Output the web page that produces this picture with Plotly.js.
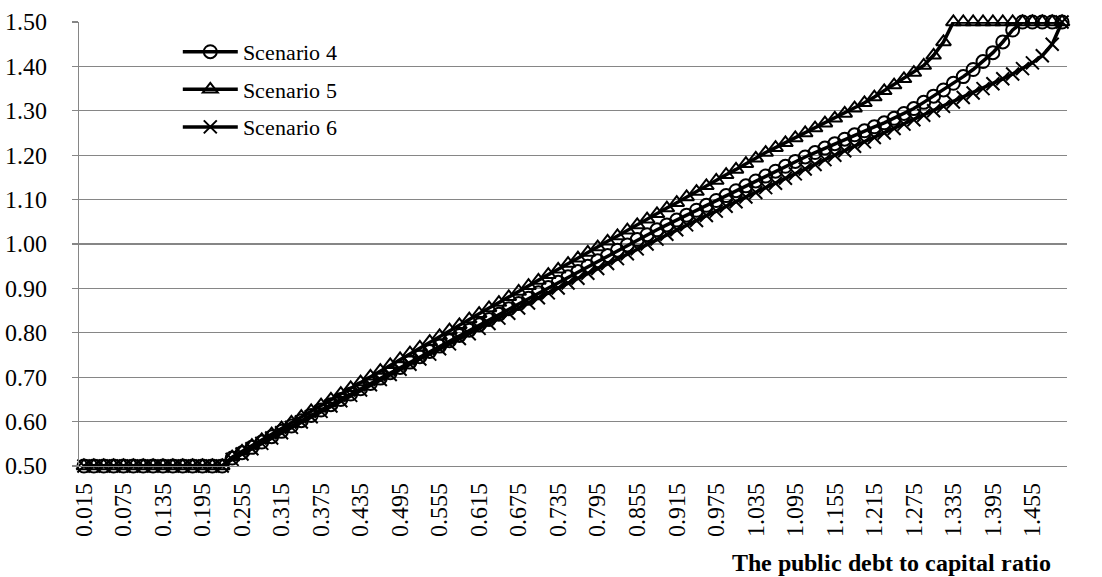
<!DOCTYPE html>
<html>
<head>
<meta charset="utf-8">
<script src="https://cdn.plot.ly/plotly-3.0.1.min.js"></script>
<style>
@font-face { font-family: "SerifLocal"; src: local("Liberation Serif"), local("LiberationSerif"), local("Liberation Serif Regular"), local("LiberationSerif-Regular"); font-weight: normal; font-style: normal; }
@font-face { font-family: "SerifLocal"; src: local("Liberation Serif Bold"), local("LiberationSerif-Bold"); font-weight: bold; font-style: normal; }
html,body{margin:0;padding:0;background:#fff;}
#fontwarm{position:absolute;left:0;top:0;font-family:"SerifLocal","Liberation Serif",serif;font-size:24px;color:#fff;opacity:0.01;pointer-events:none;}
</style>
</head>
<body>
<span id="fontwarm">&nbsp;</span>
<div id="chart" style="width:1102px;height:577px"></div>
<script>
// Categories: the public debt to capital ratio
var categories = ["0.015","0.030","0.045","0.060","0.075","0.090","0.105","0.120","0.135","0.150",
"0.165","0.180","0.195","0.210","0.225","0.240","0.255","0.270","0.285","0.300",
"0.315","0.330","0.345","0.360","0.375","0.390","0.405","0.420","0.435","0.450",
"0.465","0.480","0.495","0.510","0.525","0.540","0.555","0.570","0.585","0.600",
"0.615","0.630","0.645","0.660","0.675","0.690","0.705","0.720","0.735","0.750",
"0.765","0.780","0.795","0.810","0.825","0.840","0.855","0.870","0.885","0.900",
"0.915","0.930","0.945","0.960","0.975","0.990","1.005","1.020","1.035","1.050",
"1.065","1.080","1.095","1.110","1.125","1.140","1.155","1.170","1.185","1.200",
"1.215","1.230","1.245","1.260","1.275","1.290","1.305","1.320","1.335","1.350",
"1.365","1.380","1.395","1.410","1.425","1.440","1.455","1.470","1.485","1.500"];

var tickCategories = ["0.015","0.075","0.135","0.195","0.255","0.315","0.375","0.435","0.495","0.555",
"0.615","0.675","0.735","0.795","0.855","0.915","0.975","1.035","1.095","1.155",
"1.215","1.275","1.335","1.395","1.455"];
var tickLabels = ["0.015","0.075","0.135","0.195","0.255","0.315","0.375","0.435","0.495","0.555",
"0.615","0.675","0.735","0.795","0.855","0.915","0.975","1.035","1.095","1.155",
"1.215","1.275","1.335","1.395","1.455"];

var scenario4 = [0.50,0.50,0.50,0.50,0.50,0.50,0.50,0.50,0.50,0.50,
0.50,0.50,0.50,0.50,0.50,0.518,0.530,0.542,0.554,0.566,
0.578,0.590,0.602,0.614,0.626,0.638,0.650,0.662,0.674,0.686,
0.698,0.710,0.722,0.734,0.746,0.758,0.770,0.782,0.794,0.806,
0.818,0.830,0.842,0.854,0.866,0.878,0.890,0.902,0.914,0.926,
0.938,0.950,0.962,0.974,0.986,0.998,1.010,1.021,1.032,1.043,
1.054,1.065,1.076,1.087,1.098,1.109,1.120,1.131,1.142,1.153,
1.164,1.175,1.186,1.196,1.206,1.216,1.226,1.236,1.246,1.255,
1.264,1.273,1.283,1.294,1.305,1.319,1.333,1.347,1.362,1.377,
1.393,1.411,1.431,1.455,1.482,1.50,1.50,1.50,1.50,1.50];

var scenario5 = [0.50,0.50,0.50,0.50,0.50,0.50,0.50,0.50,0.50,0.50,
0.50,0.50,0.50,0.50,0.50,0.520,0.533,0.546,0.559,0.572,
0.585,0.598,0.611,0.624,0.637,0.650,0.663,0.676,0.689,0.702,
0.715,0.728,0.741,0.754,0.767,0.780,0.793,0.806,0.818,0.831,
0.843,0.856,0.868,0.881,0.893,0.906,0.918,0.931,0.943,0.956,
0.968,0.981,0.993,1.006,1.018,1.031,1.043,1.056,1.068,1.081,
1.093,1.106,1.118,1.131,1.143,1.156,1.168,1.181,1.193,1.206,
1.217,1.228,1.239,1.250,1.261,1.272,1.283,1.294,1.306,1.318,
1.331,1.345,1.358,1.372,1.386,1.402,1.425,1.455,1.50,1.50,
1.50,1.50,1.50,1.50,1.50,1.50,1.50,1.50,1.50,1.50];

var scenario6 = [0.50,0.50,0.50,0.50,0.50,0.50,0.50,0.50,0.50,0.50,
0.50,0.50,0.50,0.50,0.50,0.515,0.527,0.539,0.551,0.563,
0.575,0.587,0.599,0.611,0.623,0.635,0.647,0.659,0.671,0.683,
0.695,0.706,0.718,0.729,0.741,0.752,0.764,0.775,0.787,0.798,
0.810,0.821,0.833,0.844,0.856,0.867,0.879,0.890,0.901,0.912,
0.923,0.934,0.945,0.956,0.967,0.978,0.989,1.000,1.011,1.022,
1.032,1.043,1.053,1.064,1.074,1.085,1.095,1.106,1.116,1.127,
1.137,1.148,1.158,1.169,1.179,1.190,1.200,1.210,1.220,1.230,
1.240,1.250,1.260,1.270,1.280,1.290,1.300,1.310,1.320,1.330,
1.340,1.350,1.361,1.372,1.383,1.395,1.408,1.424,1.450,1.500];

var seriesNames = ["Scenario 4","Scenario 5","Scenario 6"];

var FAM = "SerifLocal, Liberation Serif, serif";

function mk(name, y, symbol, grp) {
  return {
    type: "scatter", mode: "lines+markers", name: name, x: categories, y: y,
    legendgroup: grp, cliponaxis: false,
    line: {color: "#000000", width: 3.5},
    marker: {symbol: symbol, size: 13, color: "#000000",
             line: {color: "#000000", width: 2}}
  };
}

var data = [
  mk(seriesNames[0], scenario4, "circle-open", "g4"),
  mk(seriesNames[1], scenario5, "triangle-up-open", "g5"),
  mk(seriesNames[2], scenario6, "x-thin-open", "g6")
];

var layout = {
  width: 1102, height: 577,
  margin: {l: 79, r: 35, t: 22, b: 111},
  paper_bgcolor: "#ffffff", plot_bgcolor: "#ffffff",
  font: {family: FAM, size: 24, color: "#000000"},
  showlegend: true,
  legend: {x: 0.1, y: 0.98, xanchor: "left", yanchor: "top",
           bgcolor: "rgba(255,255,255,0)", font: {family: FAM, size: 22, color: "#000000"},
           tracegroupgap: 6, itemwidth: 55},
  xaxis: {
    type: "category", categoryorder: "array", categoryarray: categories,
    range: [-0.5, 99.5],
    tickmode: "array", tickvals: tickCategories, ticktext: tickLabels,
    tickangle: -90, ticks: "", showgrid: false, zeroline: false,
    showline: true, linecolor: "#868686", linewidth: 1.3,
    ticklabelstandoff: 6,
    tickfont: {family: FAM, size: 24, color: "#000000"}
  },
  yaxis: {
    range: [0.5, 1.5], dtick: 0.1, tick0: 0.5, tickformat: ".2f",
    showgrid: true, gridcolor: "#868686", gridwidth: 1.3,
    zeroline: false, showline: true, linecolor: "#868686", linewidth: 1.3,
    ticks: "outside", ticklen: 6, tickcolor: "#868686", tickwidth: 1.3,
    ticklabelstandoff: 20,
    tickfont: {family: FAM, size: 24, color: "#000000"}
  },
  annotations: [{
    text: "<b>The public debt to capital ratio</b>", showarrow: false,
    xref: "paper", yref: "paper", x: 0.986, y: -0.218,
    xanchor: "right", yanchor: "middle",
    font: {family: FAM, size: 24, color: "#000000"}
  }]
};

// force the serif face to be resolved before drawing
void document.getElementById("fontwarm").offsetWidth;
Plotly.newPlot("chart", data, layout, {staticPlot: true});
</script>
</body>
</html>
